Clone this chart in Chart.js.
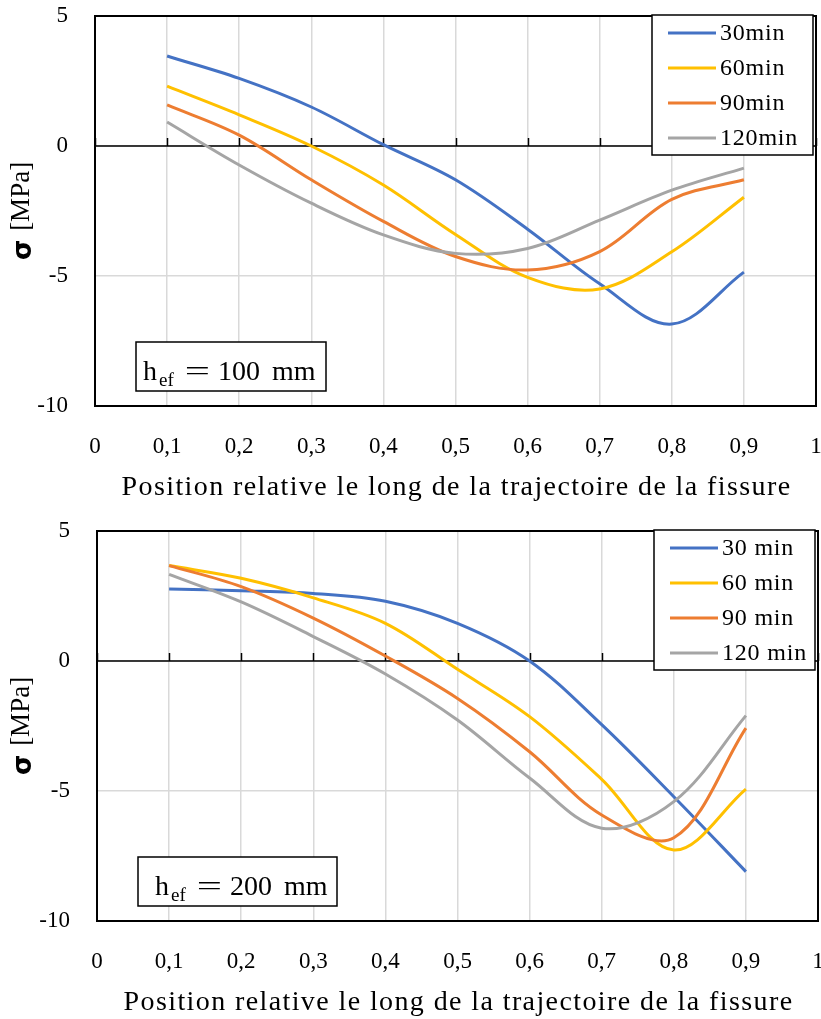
<!DOCTYPE html>
<html lang="fr">
<head>
<meta charset="UTF-8">
<title>Contrainte le long de la trajectoire de la fissure</title>
<script src="https://cdn.jsdelivr.net/npm/chart.js"></script>
<style>
  body { margin: 0; background: #fff; }
  .panel { position: absolute; left: 0; width: 821px; }
  #top { top: 0; height: 510px; }
  #bottom { top: 510px; height: 509px; }
</style>
</head>
<body>
<div class="panel" id="top"><canvas id="chart100" width="821" height="510"></canvas></div>
<div class="panel" id="bottom"><canvas id="chart200" width="821" height="509"></canvas></div>
<script>
// relative position along the crack path
const positions = [0.1, 0.2, 0.3, 0.4, 0.5, 0.6, 0.7, 0.8, 0.9];

// h_ef = 100 mm
const labels100 = ['30min', '60min', '90min', '120min'];
const s100_30  = [3.46, 2.6, 1.5, 0.05, -1.3, -3.2, -5.3, -6.85, -4.85];
const s100_60  = [2.3, 1.2, 0.0, -1.5, -3.4, -5.05, -5.5, -4.07, -1.97];
const s100_90  = [1.58, 0.42, -1.3, -2.9, -4.25, -4.77, -4.06, -2.05, -1.3];
const s100_120 = [0.92, -0.73, -2.2, -3.42, -4.13, -3.94, -2.85, -1.7, -0.85];

// h_ef = 200 mm
const labels200 = ['30 min', '60 min', '90 min', '120 min'];
const s200_30  = [2.77, 2.7, 2.6, 2.3, 1.45, 0.0, -2.45, -5.22, -8.1];
const s200_60  = [3.67, 3.18, 2.43, 1.45, -0.32, -2.14, -4.55, -7.27, -4.93];
const s200_90  = [3.67, 2.86, 1.65, 0.19, -1.44, -3.49, -5.92, -6.8, -2.58];
const s200_120 = [3.33, 2.27, 0.94, -0.5, -2.27, -4.5, -6.43, -5.41, -2.1];

const colors = ['#4472C4', '#FFC000', '#ED7D31', '#A5A5A5'];
const serif = '"Liberation Serif", "Times New Roman", serif';

function fmtTick(v) {
    if (Math.abs(v) < 1e-9) return '0';
    if (Math.abs(v - 1) < 1e-9) return '1';
    return v.toFixed(1).replace('.', ',');
}

const decor = {
    id: 'decor',
    beforeDatasetsDraw(chart) {
        const { ctx, chartArea: a, scales: { x, y } } = chart;
        const y0 = y.getPixelForValue(0);
        ctx.save();
        ctx.strokeStyle = '#000';
        ctx.lineWidth = 1.5;
        ctx.beginPath();
        ctx.moveTo(a.left, y0);
        ctx.lineTo(a.right, y0);
        x.ticks.forEach(t => {
            const px = Math.round(x.getPixelForValue(t.value)) + 0.5;
            ctx.moveTo(px, y0);
            ctx.lineTo(px, y0 - 8);
        });
        ctx.stroke();
        ctx.lineWidth = 2;
        ctx.strokeRect(a.left, a.top, a.right - a.left, a.bottom - a.top);
        ctx.restore();
    },
    afterDraw(chart, args, o) {
        const { ctx, chartArea: a } = chart;
        ctx.save();

        // legend box
        const lx = a.right - 164, ly = a.top - 1;
        ctx.fillStyle = '#fff';
        ctx.fillRect(lx, ly, 161, 140);
        ctx.strokeStyle = '#000';
        ctx.lineWidth = 1.5;
        ctx.strokeRect(lx, ly, 161, 140);
        ctx.font = '24px ' + serif;
        ctx.letterSpacing = '0.8px';
        ctx.textBaseline = 'middle';
        ctx.textAlign = 'left';
        chart.data.datasets.forEach((ds, i) => {
            const ry = ly + 18 + i * 35;
            ctx.strokeStyle = ds.borderColor;
            ctx.lineWidth = 3;
            ctx.beginPath();
            ctx.moveTo(lx + 16, ry);
            ctx.lineTo(lx + 64, ry);
            ctx.stroke();
            ctx.fillStyle = '#000';
            ctx.fillText(ds.label, lx + 68, ry + 1);
        });
        ctx.letterSpacing = '0px';

        // h_ef annotation
        const bx = a.left + 41, by = a.top + 326;
        ctx.fillStyle = '#fff';
        ctx.fillRect(bx, by, o.boxW, 49);
        ctx.strokeStyle = '#000';
        ctx.lineWidth = 1.5;
        ctx.strokeRect(bx, by, o.boxW, 49);
        ctx.fillStyle = '#000';
        ctx.textBaseline = 'alphabetic';
        const tx = bx + o.textPad;
        const base = by + 38;
        ctx.font = '28px ' + serif;
        ctx.fillText('h', tx, base);
        ctx.fillText(o.depth, tx + 75, base);
        ctx.fillText('mm', tx + 129, base);
        ctx.font = '19px ' + serif;
        ctx.fillText('ef', tx + 16, base + 6);
        ctx.save();
        ctx.translate(tx + 54.5, base);
        ctx.scale(1.6, 1);
        ctx.textAlign = 'center';
        ctx.font = '28px ' + serif;
        ctx.fillText('=', 0, 0);
        ctx.restore();

        // x axis title
        ctx.textAlign = 'center';
        ctx.textBaseline = 'middle';
        ctx.font = '28px ' + serif;
        ctx.letterSpacing = '1.4px';
        ctx.fillText('Position relative le long de la trajectoire de la fissure', (a.left + a.right) / 2 + 1, a.bottom + 82);
        ctx.letterSpacing = '0px';

        // y axis title
        ctx.translate(22, (a.top + a.bottom) / 2);
        ctx.rotate(-Math.PI / 2);
        ctx.font = 'bold 26px "DejaVu Sans", sans-serif';
        const wSig = ctx.measureText('σ').width;
        ctx.font = '27px ' + serif;
        const wUnit = ctx.measureText('[MPa]').width;
        const total = wSig + 9 + wUnit;
        ctx.textAlign = 'left';
        ctx.font = 'bold 26px "DejaVu Sans", sans-serif';
        ctx.fillText('σ', -total / 2, 2);
        ctx.font = '27px ' + serif;
        ctx.fillText('[MPa]', -total / 2 + wSig + 9, 0);
        ctx.restore();
    }
};

function makeChart(id, labels, series, pad, yWidth, xHeight, annot) {
    return new Chart(document.getElementById(id), {
        type: 'line',
        data: {
            datasets: series.map((vals, i) => ({
                label: labels[i],
                data: positions.map((p, j) => ({ x: p, y: vals[j] })),
                borderColor: colors[i],
                backgroundColor: colors[i],
                borderWidth: 3,
                pointRadius: 0,
                tension: 0.35,
                fill: false,
                order: series.length - i
            }))
        },
        options: {
            responsive: false,
            animation: false,
            layout: { padding: pad },
            plugins: {
                legend: { display: false },
                tooltip: { enabled: false },
                decor: annot
            },
            scales: {
                x: {
                    type: 'linear',
                    min: 0,
                    max: 1,
                    afterFit: s => { s.height = xHeight; s.paddingLeft = 0; s.paddingRight = 0; },
                    grid: { color: '#d9d9d9', lineWidth: 1.5, drawTicks: false },
                    border: { display: false },
                    ticks: {
                        stepSize: 0.1,
                        autoSkip: false,
                        maxRotation: 0,
                        padding: 27,
                        color: '#000',
                        font: { family: serif, size: 23 },
                        callback: v => fmtTick(v)
                    }
                },
                y: {
                    min: -10,
                    max: 5,
                    afterFit: s => { s.width = yWidth; s.paddingTop = 0; s.paddingBottom = 0; },
                    grid: { color: '#d9d9d9', lineWidth: 1.5, drawTicks: false },
                    border: { display: false },
                    ticks: {
                        stepSize: 5,
                        padding: 27,
                        color: '#000',
                        font: { family: serif, size: 23 }
                    }
                }
            }
        },
        plugins: [decor]
    });
}

makeChart('chart100', labels100, [s100_30, s100_60, s100_90, s100_120],
    { top: 16, right: 5, bottom: 0, left: 0 }, 95, 104,
    { depth: '100', boxW: 190, textPad: 7 });

makeChart('chart200', labels200, [s200_30, s200_60, s200_90, s200_120],
    { top: 21, right: 3, bottom: 0, left: 0 }, 97, 98,
    { depth: '200', boxW: 199, textPad: 17 });
</script>
</body>
</html>
